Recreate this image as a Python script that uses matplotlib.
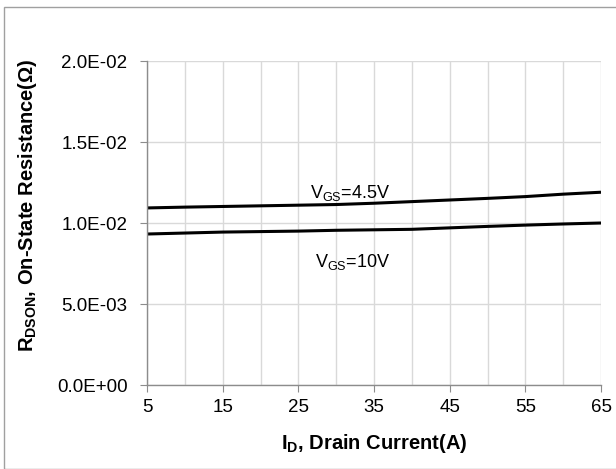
import matplotlib
matplotlib.use("Agg")
import matplotlib.pyplot as plt
from matplotlib.patches import Rectangle
from matplotlib.ticker import FixedLocator

plt.rcParams['font.family'] = ['Liberation Sans', 'DejaVu Sans']
plt.rcParams['mathtext.fontset'] = 'custom'
plt.rcParams['mathtext.rm'] = 'Liberation Sans'
plt.rcParams['mathtext.it'] = 'Liberation Sans'
plt.rcParams['mathtext.bf'] = 'Liberation Sans:bold'

# Data
current = [5, 10, 15, 20, 25, 30, 35, 40, 45, 50, 55, 60, 65]
r_vgs45 = [0.01093, 0.01098, 0.01102, 0.01106, 0.01110, 0.01114, 0.01122, 0.01132, 0.01142, 0.01152, 0.01163, 0.01178, 0.01190]
r_vgs10 = [0.00932, 0.00938, 0.00944, 0.00947, 0.00950, 0.00955, 0.00958, 0.00961, 0.00970, 0.00979, 0.00987, 0.00994, 0.01000]
x_ticks = [5, 15, 25, 35, 45, 55, 65]
x_minor = [10, 20, 30, 40, 50, 60]
y_ticks = [0.0, 0.005, 0.010, 0.015, 0.020]
y_labels = ['0.0E+00', '5.0E-03', '1.0E-02', '1.5E-02', '2.0E-02']

W, H = 616, 469
fig = plt.figure(figsize=(W / 100, H / 100), dpi=100)
fig.patches.append(Rectangle((4 / W, 0.0), 1.2, 1 - 7 / H, transform=fig.transFigure,
                             fill=False, edgecolor='#a0a0a0', linewidth=1.0))
ax = fig.add_axes([147 / W, 1 - 385 / H, (601 - 147) / W, (385 - 61) / H])

ax.plot(current, r_vgs45, color='black', lw=2.2, solid_capstyle='butt')
ax.plot(current, r_vgs10, color='black', lw=2.2, solid_capstyle='butt')

ax.set_xlim(5, 65)
ax.set_ylim(0, 0.02)
ax.xaxis.set_major_locator(FixedLocator(x_ticks))
ax.xaxis.set_minor_locator(FixedLocator(x_minor))
ax.set_yticks(y_ticks)
ax.set_yticklabels(y_labels)

ax.grid(True, which='both', color='#d9d9d9', linewidth=1.0)
ax.set_axisbelow(True)
for s in ['top', 'right']:
    ax.spines[s].set_visible(False)
for s in ['left', 'bottom']:
    ax.spines[s].set_color('#8c8c8c')
    ax.spines[s].set_linewidth(1.0)
ax.tick_params(axis='both', which='major', direction='out', length=5, color='#8c8c8c',
               labelsize=13.5, labelcolor='black')
ax.tick_params(axis='x', which='minor', length=0)
ax.tick_params(axis='x', pad=5)
ax.tick_params(axis='y', pad=9)

fig.text(374 / W, 1 - 443 / H, r'$\mathbf{I_{D}}$, Drain Current(A)', fontsize=14.5,
         fontweight='bold', ha='center', va='center')
fig.text(28 / W, 1 - 205 / H, r'$\mathbf{R_{DSON}}$, On-State Resistance(Ω)', fontsize=14.5,
         fontweight='bold', ha='center', va='center', rotation=90)

ax.text(31.8, 0.01185, r'V$_{\mathrm{GS}}$=4.5V', ha='center', va='center', fontsize=13)
ax.text(32.2, 0.0076, r'V$_{\mathrm{GS}}$=10V', ha='center', va='center', fontsize=13)

fig.savefig('out.png', dpi=100)
